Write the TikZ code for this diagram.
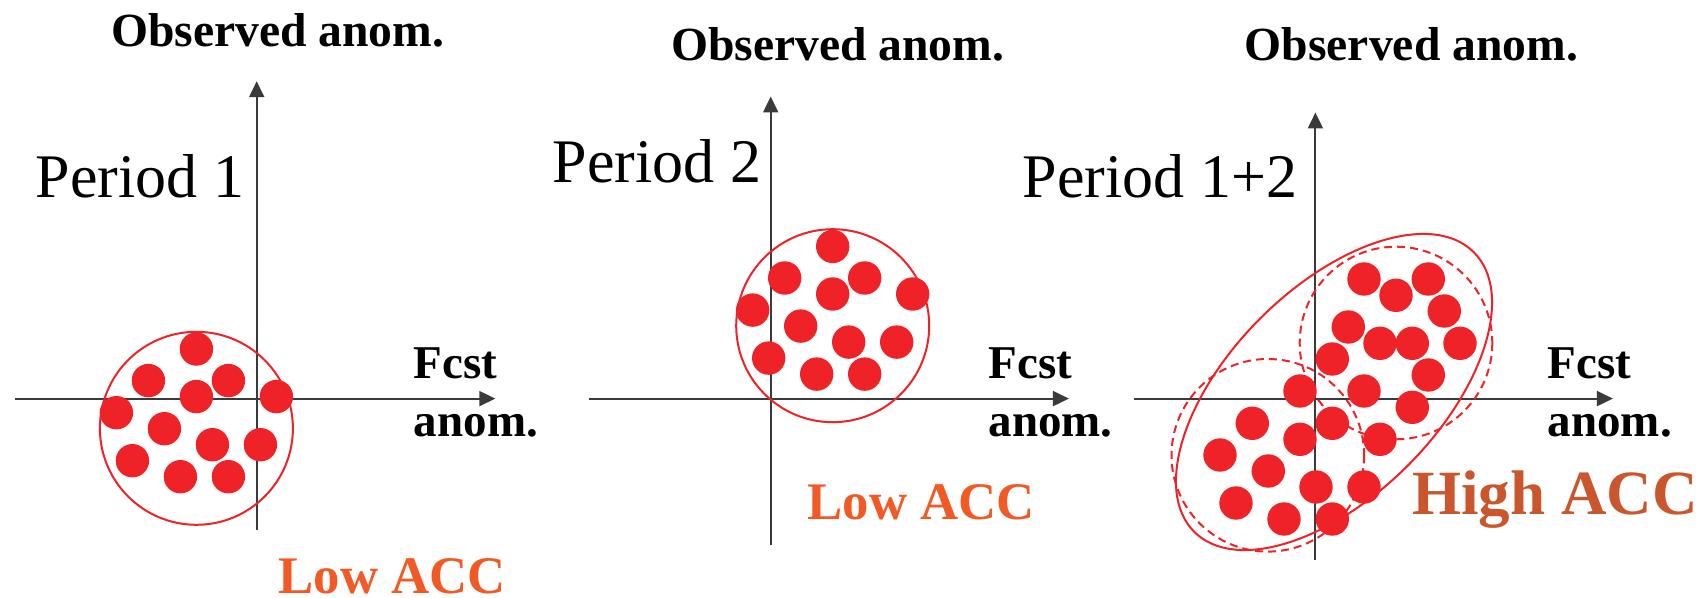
\documentclass[tikz,border=0pt]{standalone}
\usepackage{fontspec}
\setmainfont{Liberation Serif}
\usetikzlibrary{arrows.meta}
\definecolor{dotred}{HTML}{EE2227}
\definecolor{lowacc}{HTML}{F15A24}
\definecolor{highacc}{HTML}{C9562C}
\definecolor{axisgray}{HTML}{3A3A3C}
\tikzset{
  axisline/.style={draw=axisgray, line width=1pt, -{Triangle[length=8pt,width=7.5pt]}},
  dot/.style={circle, fill=dotred, inner sep=0pt, minimum size=16.7pt},
  ring/.style={draw=dotred, line width=1pt},
  dashring/.style={draw=dotred, line width=1pt, dash pattern=on 4pt off 2.5pt},
  ylab/.style={font=\fontsize{23.8pt}{28pt}\selectfont\bfseries, inner sep=0pt, anchor=base},
  xlab/.style={font=\fontsize{23.5pt}{28pt}\selectfont\bfseries, inner sep=0pt, anchor=base west},
  period/.style={font=\fontsize{31pt}{36pt}\selectfont, inner sep=0pt},
  acclow/.style={font=\fontsize{26.4pt}{30pt}\selectfont\bfseries, text=lowacc, inner sep=0pt, anchor=base west},
  acchigh/.style={font=\fontsize{31.5pt}{36pt}\selectfont\bfseries, text=highacc, inner sep=0pt, anchor=base west},
}
\begin{document}
\begin{tikzpicture}[x=0.5pt, y=-0.5pt]
\useasboundingbox (0,0) rectangle (1708,598);

% ---------- Panel 1 ----------
\coordinate (v1b) at (256.7,530.1);
\coordinate (v1t) at (256.7,81.2);
\coordinate (h1l) at (14.5,398.6);
\coordinate (h1r) at (495.3,398.6);
\draw[axisline] (v1b) -- (v1t);
\draw[axisline] (h1l) -- (h1r);
\coordinate (c1) at (196.4,428.3);
\draw[ring] (c1) circle (96.5);
\foreach \n/\p in {a/{196.4,349},b/{148.4,380.6},c/{228.4,380.6},d/{196.4,396.6},e/{276.4,396.6},f/{116.4,412.7},g/{164.4,428.7},h/{212.4,444.7},i/{260.4,444.7},j/{132.4,460.7},k/{180.4,476.7},l/{228.4,476.7}}
  \node[dot] (p1\n) at (\p) {};
\node[ylab] (obs1) at (277.6,46.5) {Observed anom.};
\node[period, anchor=base west] (per1) at (35.3,197.6) {Period 1};
\node[xlab] (fcst1) at (413.5,378.7) {Fcst};
\node[xlab] (anom1) at (413.5,436.7) {anom.};
\node[acclow] (acc1) at (278,593.5) {Low ACC};

% ---------- Panel 2 ----------
\coordinate (v2b) at (770.7,544.6);
\coordinate (v2t) at (770.7,96.5);
\coordinate (h2l) at (588.9,398.6);
\coordinate (h2r) at (1068.9,398.6);
\draw[axisline] (v2b) -- (v2t);
\draw[axisline] (h2l) -- (h2r);
\coordinate (c2) at (832.7,325.7);
\draw[ring] (c2) circle (96.5);
\begin{scope}[shift={(636.3,-102.6)}]
\foreach \n/\p in {a/{196.4,349},b/{148.4,380.6},c/{228.4,380.6},d/{196.4,396.6},e/{276.4,396.6},f/{116.4,412.7},g/{164.4,428.7},h/{212.4,444.7},i/{260.4,444.7},j/{132.4,460.7},k/{180.4,476.7},l/{228.4,476.7}}
  \node[dot] (p2\n) at (\p) {};
\end{scope}
\node[ylab] (obs2) at (837.6,61) {Observed anom.};
\node[period, anchor=base east] (per2) at (761.6,182.3) {Period 2};
\node[xlab] (fcst2) at (988.2,378.7) {Fcst};
\node[xlab] (anom2) at (988.2,436.7) {anom.};
\node[acclow] (acc2) at (807,519.5) {Low ACC};

% ---------- Panel 3 ----------
\coordinate (v3b) at (1315.4,559.9);
\coordinate (v3t) at (1315.4,112.5);
\coordinate (h3l) at (1134,398.6);
\coordinate (h3r) at (1612.9,398.6);
\draw[axisline] (v3b) -- (v3t);
\draw[axisline] (h3l) -- (h3r);
\coordinate (c3) at (1334,392);
\coordinate (c3u) at (1396,343);
\coordinate (c3l) at (1267.8,455.3);
\draw[dashring] (c3u) circle (96.3);
\draw[dashring] (c3l) circle (96.3);
\draw[ring] (c3) ellipse [x radius=197.7, y radius=104.2, rotate=45];
\foreach \n/\p in {a/{1364,279},b/{1428.3,279},c/{1396,295.3},d/{1444.3,311},e/{1348.3,327},f/{1380,343.3},g/{1412.3,343.3},h/{1460,343.3},i/{1332.3,359},j/{1428.3,375},k/{1300,391},l/{1364,391},m/{1412.3,407.3},n/{1252.3,423.3},o/{1332.3,423.3},p/{1300,439.3},q/{1380,439.3},r/{1220,455},s/{1268.3,471},t/{1316,487},u/{1364,487},v/{1236,503},w/{1284,519},x/{1332.3,519}}
  \node[dot] (p3\n) at (\p) {};
\node[ylab] (obs3) at (1411.4,61) {Observed anom.};
\node[period, anchor=base east] (per3) at (1297.7,197.6) {Period 1+2};
\node[xlab] (fcst3) at (1547.3,378.7) {Fcst};
\node[xlab] (anom3) at (1547.3,436.7) {anom.};
\node[acchigh] (acc3) at (1412,514.9) {High ACC};
\end{tikzpicture}
\end{document}
